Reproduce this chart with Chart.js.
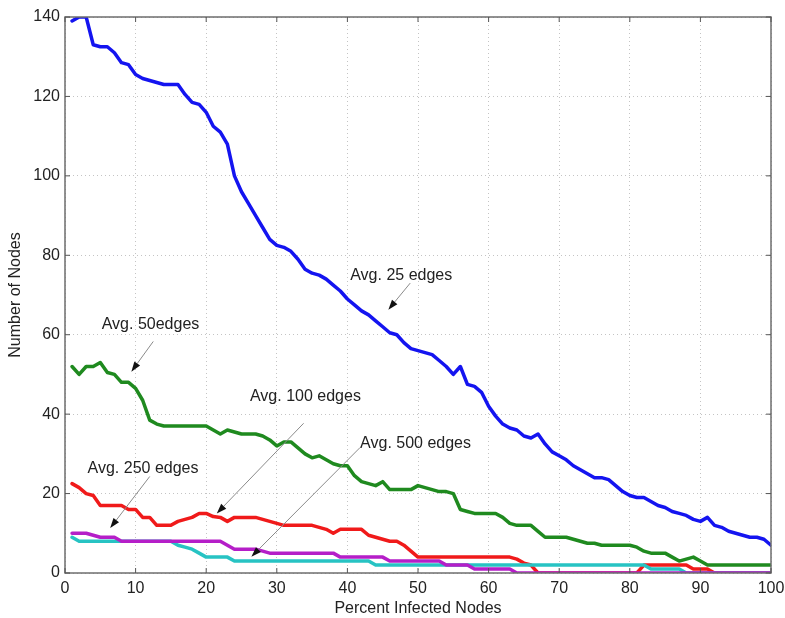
<!DOCTYPE html>
<html>
<head>
<meta charset="utf-8">
<script src="https://cdn.jsdelivr.net/npm/chart.js@4.4.1/dist/chart.umd.min.js"></script>
<style>
  html, body { margin: 0; padding: 0; background: #ffffff; }
  #wrap { width: 785px; height: 618px; }
</style>
</head>
<body>
<div id="wrap"><canvas id="c" width="785" height="618"></canvas></div>
<script>
// ---- Data ----
const percentInfected = [
  1,2,3,4,5,6,7,8,9,10, 11,12,13,14,15,16,17,18,19,20,
  21,22,23,24,25,26,27,28,29,30, 31,32,33,34,35,36,37,38,39,40,
  41,42,43,44,45,46,47,48,49,50, 51,52,53,54,55,56,57,58,59,60,
  61,62,63,64,65,66,67,68,69,70, 71,72,73,74,75,76,77,78,79,80,
  81,82,83,84,85,86,87,88,89,90, 91,92,93,94,95,96,97,98,99,100
];

const avg25 = [
  139,140,140,133,132.5,132.5,131,128.5,128,125.5,
  124.5,124,123.5,123,123,123,120.5,118.5,118,116,
  112.5,111,108,100,96,93,90,87,84,82.5,
  82,81,79,76.5,75.5,75,74,72.5,71,69,
  67.5,66,65,63.5,62,60.5,60,58,56.5,56,
  55.5,55,53.5,52,50,52,47.5,47,45.5,42,
  39.5,37.5,36.5,36,34.5,34,35,32.5,30.5,29.5,
  28.5,27,26,25,24,24,23.5,22,20.5,19.5,
  19,19,18,17,16.5,15.5,15,14.5,13.5,13,
  14,12,11.5,10.5,10,9.5,9,9,8.5,7
];

const avg50 = [
  52,50,52,52,53,50.5,50,48,48,46.5,
  43.5,38.5,37.5,37,37,37,37,37,37,37,
  36,35,36,35.5,35,35,35,34.5,33.5,32,
  33,33,31.5,30,29,29.5,28.5,27.5,27,27,
  24.5,23,22.5,22,23,21,21,21,21,22,
  21.5,21,20.5,20.5,20,16,15.5,15,15,15,
  15,14,12.5,12,12,12,10.5,9,9,9,
  9,8.5,8,7.5,7.5,7,7,7,7,7,
  6.5,5.5,5,5,5,4,3,3.5,4,3,
  2,2,2,2,2,2,2,2,2,2
];

const avg100 = [
  22.5,21.5,20,19.5,17,17,17,17,16,16,
  14,14,12,12,12,13,13.5,14,15,15,
  14.2,14,13,14,14,14,14,13.5,13,12.5,
  12,12,12,12,12,11.5,11,10,11,11,
  11,11,9.5,9,8.5,8,8,7,5.5,4,
  4,4,4,4,4,4,4,4,4,4,
  4,4,4,3.5,2.5,2,0,0,0,0,
  0,0,0,0,0,0,0,0,0,0,
  0,2,2,2,2,2,2,2,1,1,
  1,0,0,0,0,0,0,0,0,0
];

const avg250 = [
  10,10,10,9.5,9,9,9,8,8,8,
  8,8,8,8,8,8,8,8,8,8,
  8,8,7,6,6,6,6,5.5,5,5,
  5,5,5,5,5,5,5,5,4,4,
  4,4,4,4,4,3,3,3,3,3,
  3,3,3,2,2,2,2,1,1,1,
  1,1,1,0,0,0,0,0,0,0,
  0,0,0,0,0,0,0,0,0,0,
  0,0,0,0,0,0,0,0,0,0,
  0,0,0,0,0,0,0,0,0,0
];

const avg500 = [
  9,8,8,8,8,8,8,8,8,8,
  8,8,8,8,8,7,6.5,6,5,4,
  4,4,4,3,3,3,3,3,3,3,
  3,3,3,3,3,3,3,3,3,3,
  3,3,3,2,2,2,2,2,2,2,
  2,2,2,2,2,2,2,2,2,2,
  2,2,2,2,2,2,2,2,2,2,
  2,2,2,2,2,2,2,2,2,2,
  2,2,1,1,1,1,1,0,0,0,
  0,0,0,0,0,0,0,0,0,0
];

const xTicks = [0,10,20,30,40,50,60,70,80,90,100];
const yTicks = [0,20,40,60,80,100,120,140];

// Annotation labels (in data coordinates)
const noteTexts = ['Avg. 25 edges', 'Avg. 50edges', 'Avg. 100 edges', 'Avg. 250 edges', 'Avg. 500 edges'];
const noteAt    = [[40.4, 75.0], [5.2, 62.5], [26.2, 44.4], [3.2, 26.4], [41.8, 32.7]];
const arrowFrom = [[48.9, 73.0], [12.5, 58.3], [33.8, 37.7], [12.0, 24.3], [41.8, 31.6]];
const arrowTo   = [[45.8, 66.3], [9.4, 50.7], [21.5, 15.0], [6.4, 11.3], [26.4, 4.1]];

function pts(ys) { return percentInfected.map((x, i) => ({ x: x, y: ys[i] })); }

const FONT = "'Liberation Sans', Arial, sans-serif";

const boxPlugin = {
  id: 'boxAndNotes',
  afterDatasetsDraw(chart) {
    const { ctx, chartArea: a, scales } = chart;
    const xs = scales.x, ys = scales.y;
    ctx.save();
    // frame
    ctx.strokeStyle = '#6e6e6e';
    ctx.lineWidth = 1.5;
    ctx.strokeRect(a.left, a.top, a.right - a.left, a.bottom - a.top);
    // inward ticks
    ctx.lineWidth = 1;
    ctx.strokeStyle = '#555';
    ctx.beginPath();
    xTicks.forEach(v => {
      const px = xs.getPixelForValue(v);
      ctx.moveTo(px, a.bottom); ctx.lineTo(px, a.bottom - 5);
      ctx.moveTo(px, a.top); ctx.lineTo(px, a.top + 5);
    });
    yTicks.forEach(v => {
      const py = ys.getPixelForValue(v);
      ctx.moveTo(a.left, py); ctx.lineTo(a.left + 5, py);
      ctx.moveTo(a.right, py); ctx.lineTo(a.right - 5, py);
    });
    ctx.stroke();

    // annotations
    ctx.font = '16px ' + FONT;
    ctx.fillStyle = '#222';
    ctx.textAlign = 'left';
    ctx.textBaseline = 'middle';
    noteTexts.forEach((t, i) => {
      ctx.fillText(t, xs.getPixelForValue(noteAt[i][0]), ys.getPixelForValue(noteAt[i][1]));
      const x0 = xs.getPixelForValue(arrowFrom[i][0]), y0 = ys.getPixelForValue(arrowFrom[i][1]);
      const x1 = xs.getPixelForValue(arrowTo[i][0]), y1 = ys.getPixelForValue(arrowTo[i][1]);
      const ang = Math.atan2(y1 - y0, x1 - x0);
      const hl = 10, hw = 3.5;
      const bx = x1 - hl * Math.cos(ang), by = y1 - hl * Math.sin(ang);
      ctx.strokeStyle = '#8a8a8a';
      ctx.lineWidth = 1;
      ctx.beginPath(); ctx.moveTo(x0, y0); ctx.lineTo(bx, by); ctx.stroke();
      ctx.fillStyle = '#111';
      ctx.beginPath();
      ctx.moveTo(x1, y1);
      ctx.lineTo(bx + hw * Math.sin(ang), by - hw * Math.cos(ang));
      ctx.lineTo(bx - hw * Math.sin(ang), by + hw * Math.cos(ang));
      ctx.closePath(); ctx.fill();
      ctx.fillStyle = '#222';
    });
    ctx.restore();
  }
};

const common = { borderWidth: 3.5, pointRadius: 0, tension: 0, fill: false, borderJoinStyle: 'round', borderCapStyle: 'round' };

new Chart(document.getElementById('c'), {
  type: 'line',
  data: {
    datasets: [
      Object.assign({ label: 'Avg. 25 edges',  data: pts(avg25),  borderColor: '#1414f0', order: 5 }, common),
      Object.assign({ label: 'Avg. 50 edges',  data: pts(avg50),  borderColor: '#1f8a1f', order: 4 }, common),
      Object.assign({ label: 'Avg. 100 edges', data: pts(avg100), borderColor: '#f01a1a', order: 3 }, common),
      Object.assign({ label: 'Avg. 250 edges', data: pts(avg250), borderColor: '#b51ec8', order: 1 }, common),
      Object.assign({ label: 'Avg. 500 edges', data: pts(avg500), borderColor: '#27c3c3', order: 2 }, common)
    ]
  },
  options: {
    responsive: false,
    animation: false,
    events: [],
    layout: { padding: { top: 17, right: 14, left: 0, bottom: 0 } },
    plugins: { legend: { display: false }, tooltip: { enabled: false } },
    scales: {
      x: {
        type: 'linear', min: 0, max: 100,
        afterBuildTicks: s => { s.ticks = xTicks.map(v => ({ value: v })); },
        afterFit: s => { s.height = 45; s.paddingLeft = 0; s.paddingRight = 0; },
        ticks: { color: '#222', font: { size: 16, family: FONT }, padding: 6, maxRotation: 0 },
        grid: { color: '#c4c4c4', drawTicks: false, lineWidth: 1 },
        border: { display: false, dash: [1, 3] },
        title: { display: true, text: 'Percent Infected Nodes', color: '#222', font: { size: 16, family: FONT }, padding: { top: 0, bottom: 0 } }
      },
      y: {
        type: 'linear', min: 0, max: 140,
        afterBuildTicks: s => { s.ticks = yTicks.map(v => ({ value: v })); },
        afterFit: s => { s.width = 65; s.paddingTop = 0; s.paddingBottom = 0; },
        ticks: { color: '#222', font: { size: 16, family: FONT }, padding: 5 },
        grid: { color: '#c4c4c4', drawTicks: false, lineWidth: 1 },
        border: { display: false, dash: [1, 3] },
        title: { display: true, text: 'Number of Nodes', color: '#222', font: { size: 16, family: FONT }, padding: { top: 6, bottom: 0 } }
      }
    }
  },
  plugins: [boxPlugin]
});
</script>
</body>
</html>
